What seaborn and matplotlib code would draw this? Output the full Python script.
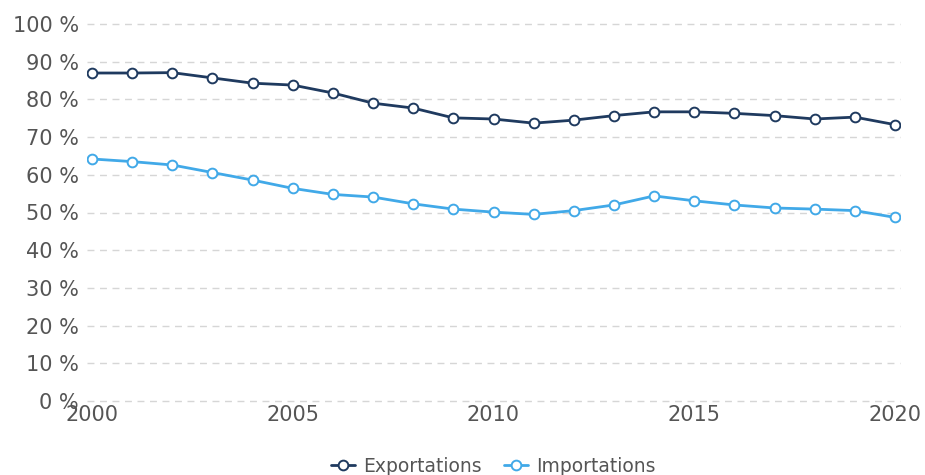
import matplotlib
matplotlib.use("Agg")
import matplotlib.pyplot as plt
import pandas as pd
import seaborn as sns

# ── Data ────────────────────────────────────────────────────────────────────
years = list(range(2000, 2021))
exportations = [87.0, 87.0, 87.1, 85.7, 84.3, 83.8, 81.7, 79.0, 77.7, 75.1, 74.8,
                73.7, 74.5, 75.7, 76.7, 76.7, 76.3, 75.7, 74.8, 75.3, 73.3]
importations = [64.2, 63.5, 62.6, 60.6, 58.6, 56.4, 54.8, 54.1, 52.3, 50.9, 50.1,
                49.5, 50.5, 52.0, 54.4, 53.1, 52.0, 51.2, 50.9, 50.5, 48.7]
series_names = ["Exportations", "Importations"]
y_ticks = list(range(0, 101, 10))
x_ticks = [2000, 2005, 2010, 2015, 2020]

# ── Style ───────────────────────────────────────────────────────────────────
NAVY = "#1f3a5f"
LIGHT = "#41a9e8"
TEXT = "#555555"
GRID = "#d6d6d6"

sns.set_style("white")
plt.rcParams["font.family"] = ["DejaVu Sans"]

df = pd.DataFrame({"year": years, series_names[0]: exportations,
                   series_names[1]: importations})
long = df.melt(id_vars="year", var_name="serie", value_name="value")

fig = plt.figure(figsize=(9.25, 4.75), dpi=100)
ax = fig.add_axes([87 / 925, 1 - 401 / 475, 813 / 925, 377 / 475])

sns.lineplot(data=long, x="year", y="value", hue="serie",
             palette={series_names[0]: NAVY, series_names[1]: LIGHT},
             marker="o", markersize=7, markerfacecolor="white",
             markeredgewidth=1.4, linewidth=2.0, ax=ax, legend=False)
for line, col in zip(ax.get_lines(), [NAVY, LIGHT]):
    line.set_markeredgecolor(col)

ax.set_xlim(1999.875, 2020.125)
ax.set_ylim(0, 100)
ax.set_yticks(y_ticks)
ax.set_yticklabels([f"{v} %" for v in y_ticks])
ax.set_xticks(x_ticks)
ax.set_xticklabels([str(v) for v in x_ticks])
ax.tick_params(axis="both", length=0, colors=TEXT, labelsize=15)
ax.tick_params(axis="y", pad=6)
ax.tick_params(axis="x", pad=3)
ax.grid(axis="y", color=GRID, linestyle=(0, (5, 4)), linewidth=1)
for gl in ax.get_ygridlines():
    gl.set_clip_on(False)
ax.set_axisbelow(True)
for spine in ax.spines.values():
    spine.set_visible(False)
ax.set_xlabel("")
ax.set_ylabel("")

handles = [plt.Line2D([], [], color=c, marker="o", markerfacecolor="white",
                      markeredgecolor=c, markeredgewidth=1.4, markersize=7,
                      linewidth=2) for c in [NAVY, LIGHT]]
fig.legend(handles, series_names, loc="center",
           bbox_to_anchor=(493 / 925, 1 - 466 / 475),
           ncol=2, frameon=False, fontsize=13.5, labelcolor=TEXT,
           handlelength=1.3, handletextpad=0.4, columnspacing=1.2)

fig.savefig("out.png", dpi=100, facecolor="white")
